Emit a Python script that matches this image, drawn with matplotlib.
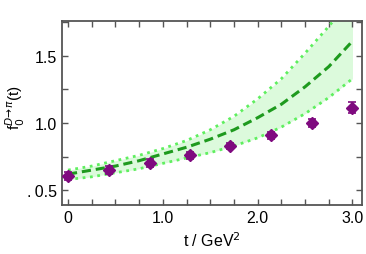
import matplotlib
matplotlib.use('Agg')
import matplotlib.pyplot as plt
from matplotlib.ticker import MultipleLocator, FixedLocator

plt.rcParams['font.family'] = ['Liberation Sans', 'DejaVu Sans']
plt.rcParams['mathtext.fontset'] = 'dejavusans'

# lattice points
t_pts = [0.0, 0.43, 0.86, 1.29, 1.71, 2.14, 2.57, 3.0]
f_pts = [0.603, 0.65, 0.70, 0.76, 0.83, 0.91, 1.00, 1.115]
f_err = [0.03, 0.03, 0.03, 0.025, 0.02, 0.025, 0.03, 0.04]

# fit curve and band
t_fit = [0.0, 0.25, 0.5, 0.75, 1.0, 1.25, 1.5, 1.75, 2.0, 2.25, 2.5, 2.75, 3.0]
f_mid = [0.62, 0.65, 0.68, 0.72, 0.77, 0.82, 0.88, 0.95, 1.04, 1.14, 1.27, 1.42, 1.61]
f_up = [0.65, 0.68, 0.72, 0.76, 0.81, 0.87, 0.95, 1.05, 1.18, 1.33, 1.52, 1.72, 1.93]
f_lo = [0.58, 0.60, 0.63, 0.66, 0.70, 0.74, 0.78, 0.83, 0.89, 0.97, 1.07, 1.19, 1.33]

fig = plt.figure(figsize=(3.66, 2.55), dpi=100)
ax = fig.add_axes([0.169, 0.192, 0.820, 0.722])

ax.fill_between(t_fit, f_lo, f_up, color='#dcfadc', lw=0, zorder=1)
ax.plot(t_fit, f_up, ':', color='#5fef5f', lw=2, zorder=2)
ax.plot(t_fit, f_lo, ':', color='#5fef5f', lw=2, zorder=2)
ax.plot(t_fit, f_mid, '--', color='#1e9a1e', lw=2.2, dashes=(3, 1.6), zorder=3)
ax.errorbar(t_pts, f_pts, yerr=f_err, fmt='D', color='#7f0a7f', ms=6,
            elinewidth=1.2, capsize=3, capthick=1.2, zorder=4)

ax.set_xlim(-0.065, 3.1)
ax.set_ylim(0.39, 1.76)
ax.xaxis.set_major_locator(FixedLocator([0, 1, 2, 3]))
ax.xaxis.set_minor_locator(MultipleLocator(0.25))
ax.set_xticklabels(['0', '1.0', '2.0', '3.0'])
ax.yaxis.set_major_locator(FixedLocator([0.5, 1.0, 1.5]))
ax.yaxis.set_minor_locator(MultipleLocator(0.25))
ax.set_yticklabels(['.\u20090.5', '1.0', '1.5'])
ax.tick_params(which='both', direction='in', top=True, right=True,
               length=4, width=1, labelsize=11.5, color='#555555')
for s in ax.spines.values():
    s.set_color('#555555')
    s.set_linewidth(1.3)

ax.set_xlabel('t / GeV$^2$', fontsize=11.5)
ax.set_ylabel(r'f$_0^{D\!\rightarrow\!\pi}$(t)', fontsize=11)
ax.yaxis.set_label_coords(-0.115, 0.535)

fig.savefig('out.png', dpi=100)
